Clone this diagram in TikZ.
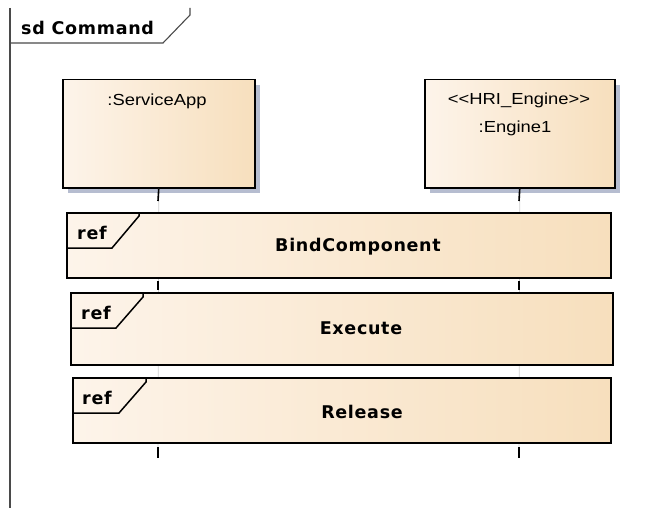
\documentclass[tikz,border=0pt]{standalone}
\usepackage{fontspec}
\setmainfont{Liberation Sans}
\newfontfamily\boxfont[FakeStretch=1.15]{Liberation Sans}
\newfontfamily\hdfont[LetterSpace=4]{DejaVu Sans}
\usetikzlibrary{shadows,calc}
\definecolor{boxL}{HTML}{FDF4EA}
\definecolor{boxR}{HTML}{F7DFBD}
\definecolor{shadowc}{HTML}{B6BDD0}
\definecolor{framec}{HTML}{4A4A4A}
\definecolor{lifeg}{HTML}{CFCFCF}
\tikzset{
  frameline/.style={draw=framec, line width=1.1pt},
  lifebox/.style={draw=black, line width=1.5pt, left color=boxL, right color=boxR,
    anchor=north west, inner sep=0pt,
    drop shadow={shadow xshift=5pt, shadow yshift=-5pt, fill=shadowc, opacity=1}},
  refbox/.style={draw=black, line width=1.5pt, left color=boxL, right color=boxR,
    anchor=north west, inner sep=0pt,
    drop shadow={shadow xshift=1.2pt, shadow yshift=-1.2pt, fill=black!40, opacity=1}},
  reftab/.style={draw=black, line width=1.5pt},
  boxtext/.style={font=\boxfont\fontsize{16}{19}\selectfont, inner sep=0pt},
  hdtext/.style={font=\hdfont\bfseries\fontsize{17.5}{20}\selectfont, inner sep=0pt},
  lifegray/.style={draw=lifeg, line width=0.8pt},
  lifedark/.style={draw=black, line width=1.6pt},
}
\begin{document}
\begin{tikzpicture}[x=1pt,y=-1pt]
\useasboundingbox (0,0) rectangle (655,508);
% frame
\draw[frameline] (10,8) -- (10,508);
\draw[frameline] (10,43) -- (163,43) -- (190,15) -- (190,8);
\node[hdtext, anchor=west] (title) at (21,28) {sd Command};

% lifeline ends
\coordinate (saend) at (158,458);
\coordinate (enend) at (519,458);

% lifeline boxes
\node[lifebox, minimum width=192pt, minimum height=108pt] (sa) at (62,79) {};
\node[lifebox, minimum width=190pt, minimum height=108pt] (en) at (424,79) {};
\node[boxtext] (satext) at (157,101) {:ServiceApp};
\node[boxtext] (entext1) at (519,100) {{<}{<}HRI\_Engine{>}{>}};
\node[boxtext] (entext2) at (515,128) {:Engine1};

% faint lifelines
\draw[lifegray] (sa.south) -- (saend);
\draw[lifegray] (en.south) -- (enend);

% ref boxes
\node[refbox, minimum width=544pt, minimum height=65pt] (bind) at (66,212) {};
\node[refbox, minimum width=542pt, minimum height=72pt] (exec) at (70,292) {};
\node[refbox, minimum width=538pt, minimum height=65pt] (rel) at (72,377) {};

\draw[reftab] (139,212) -- (139,216) -- (112,248) -- (66,248);
\draw[reftab] (143,292) -- (143,297) -- (116,328) -- (70,328);
\draw[reftab] (146,377) -- (146,382) -- (119,413) -- (72,413);

\node[hdtext] (r1) at (92,233) {ref};
\node[hdtext] (r2) at (96,313) {ref};
\node[hdtext] (r3) at (97,398) {ref};

\node[hdtext] (t1) at (358,247) {BindComponent};
\node[hdtext] (t2) at (361,328) {Execute};
\node[hdtext] (t3) at (362,412) {Release};

% dark lifeline segments
\draw[lifedark] (sa.south) -- (158,201);
\draw[lifedark] (158,281) -- (158,290);
\draw[lifedark] (158,447) -- (saend);
\draw[lifedark] (en.south) -- (519,201);
\draw[lifedark] (519,281) -- (519,290);
\draw[lifedark] (519,447) -- (enend);
\end{tikzpicture}
\end{document}
